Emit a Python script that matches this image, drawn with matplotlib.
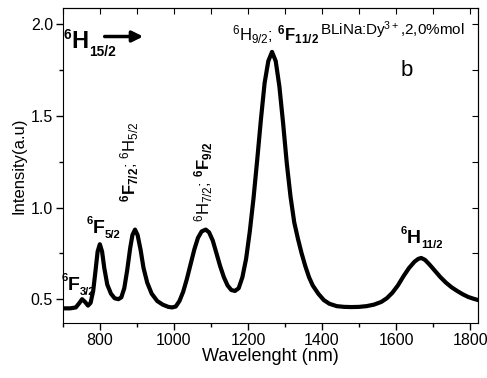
import numpy as np
import matplotlib.pyplot as plt
from matplotlib.ticker import MultipleLocator

plt.rcParams['font.family'] = ['Liberation Sans', 'DejaVu Sans']
plt.rcParams['mathtext.fontset'] = 'custom'
plt.rcParams['mathtext.rm'] = 'Liberation Sans'
plt.rcParams['mathtext.bf'] = 'Liberation Sans:bold'
plt.rcParams['mathtext.it'] = 'Liberation Sans:italic'

# spectrum
wavelength = [700, 720, 735, 745, 752, 760, 768, 775, 782, 788, 794, 800, 806, 812, 820,
              830, 840, 850, 858, 866, 874, 882, 888, 895, 902, 910, 918, 928, 940, 955,
              970, 985, 995, 1005, 1015, 1025, 1035, 1045, 1055, 1065, 1075, 1086, 1095,
              1105, 1115, 1125, 1135, 1145, 1155, 1165, 1175, 1185, 1195, 1205, 1215,
              1225, 1235, 1245, 1255, 1265, 1275, 1285, 1295, 1305, 1315, 1325, 1335,
              1345, 1355, 1365, 1375, 1390, 1405, 1420, 1440, 1460, 1480, 1500, 1520,
              1540, 1560, 1575, 1590, 1605, 1620, 1635, 1650, 1660, 1668, 1678, 1690,
              1705, 1720, 1735, 1750, 1765, 1780, 1795, 1810, 1822]
intensity = [0.450, 0.450, 0.455, 0.480, 0.500, 0.485, 0.465, 0.480, 0.545, 0.650, 0.760,
             0.800, 0.760, 0.670, 0.580, 0.530, 0.505, 0.500, 0.510, 0.560, 0.660, 0.780,
             0.850, 0.880, 0.850, 0.770, 0.670, 0.590, 0.530, 0.490, 0.470, 0.458, 0.455,
             0.460, 0.490, 0.540, 0.610, 0.690, 0.770, 0.835, 0.870, 0.880, 0.865, 0.820,
             0.750, 0.680, 0.620, 0.575, 0.550, 0.545, 0.560, 0.620, 0.720, 0.870, 1.050,
             1.260, 1.480, 1.680, 1.800, 1.850, 1.800, 1.660, 1.460, 1.240, 1.060, 0.920,
             0.830, 0.750, 0.680, 0.620, 0.575, 0.530, 0.495, 0.475, 0.462, 0.458, 0.457,
             0.458, 0.462, 0.470, 0.485, 0.505, 0.535, 0.575, 0.625, 0.670, 0.705, 0.720,
             0.725, 0.715, 0.690, 0.655, 0.620, 0.590, 0.565, 0.545, 0.527, 0.512, 0.502,
             0.495]

# level labels: (x, y, letter, subscript, size)
terms = [(724, 1.874, 'H', '15/2', 17),
         (714, 0.549, 'F', '3/2', 14),
         (781, 0.861, 'F', '5/2', 14),
         (1630, 0.806, 'H', '11/2', 14)]
glyph_w = {'H': 0.722, 'F': 0.611}


def term(ax, x, y, letter, sub, size):
    # superscript 6, big bold letter, small bold subscript
    ax.annotate(letter, (x, y), fontsize=size, fontweight='bold', va='baseline')
    cap = 0.72 * size
    ax.annotate('6', (x, y), xytext=(-0.3, cap + 2), textcoords='offset points',
                fontsize=0.58 * size, fontweight='bold', ha='right', va='top')
    ax.annotate(sub, (x, y), xytext=(glyph_w[letter] * size, 2),
                textcoords='offset points', fontsize=0.58 * size, fontweight='bold',
                va='top')


fig = plt.figure(figsize=(4.87, 3.78), dpi=100)
ax = fig.add_axes([0.129, 0.1455, 0.853, 0.8335])

ax.plot(wavelength, intensity, color='black', lw=3, solid_joinstyle='round')

ax.set_xlim(700, 1822)
ax.set_ylim(0.37, 2.09)
ax.xaxis.set_major_locator(MultipleLocator(200))
ax.xaxis.set_minor_locator(MultipleLocator(100))
ax.yaxis.set_major_locator(MultipleLocator(0.5))
ax.yaxis.set_minor_locator(MultipleLocator(0.25))
ax.tick_params(which='both', direction='out', labelsize=11.5, width=1, pad=2)
ax.tick_params(which='major', length=5)
ax.tick_params(which='minor', length=3)
sx = ax.secondary_xaxis('top')
sx.xaxis.set_major_locator(MultipleLocator(100))
sx.tick_params(direction='in', length=4, labeltop=False)
sy = ax.secondary_yaxis('right')
sy.yaxis.set_major_locator(MultipleLocator(0.25))
sy.tick_params(direction='in', length=4, labelright=False)

ax.set_xlabel('Wavelenght (nm)', fontsize=13, labelpad=0)
ax.set_ylabel('Intensity(a.u)', fontsize=12, labelpad=3)

for x, y, letter, sub, size in terms:
    term(ax, x, y, letter, sub, size)

ax.annotate('', xy=(917, 1.934), xytext=(813, 1.934),
            arrowprops=dict(arrowstyle='-|>', mutation_scale=16, lw=2.5, color='black',
                            shrinkA=0, shrinkB=0))
ax.text(880, 1.03, r'$^{\mathbf{6}}\mathbf{F}_{\mathbf{7/2}};\,^{6}\mathrm{H}_{5/2}$', fontsize=12,
        rotation=90, ha='center', va='bottom')
ax.text(1080, 0.92, r'$^{6}\mathrm{H}_{7/2};\,^{\mathbf{6}}\mathbf{F}_{\mathbf{9/2}}$', fontsize=12,
        rotation=90, ha='center', va='bottom')
ax.text(1158, 1.88, r'$^{6}\mathrm{H}_{9/2};\,^{\mathbf{6}}\mathbf{F}_{\mathbf{11/2}}$', fontsize=12,
        va='bottom')
ax.text(1395, 1.97, r'BLiNa:Dy$^{3+}$,2,0%mol', fontsize=11, va='center')
ax.text(1630, 1.75, 'b', fontsize=16, ha='center', va='center')

fig.savefig('out.png', dpi=100)
